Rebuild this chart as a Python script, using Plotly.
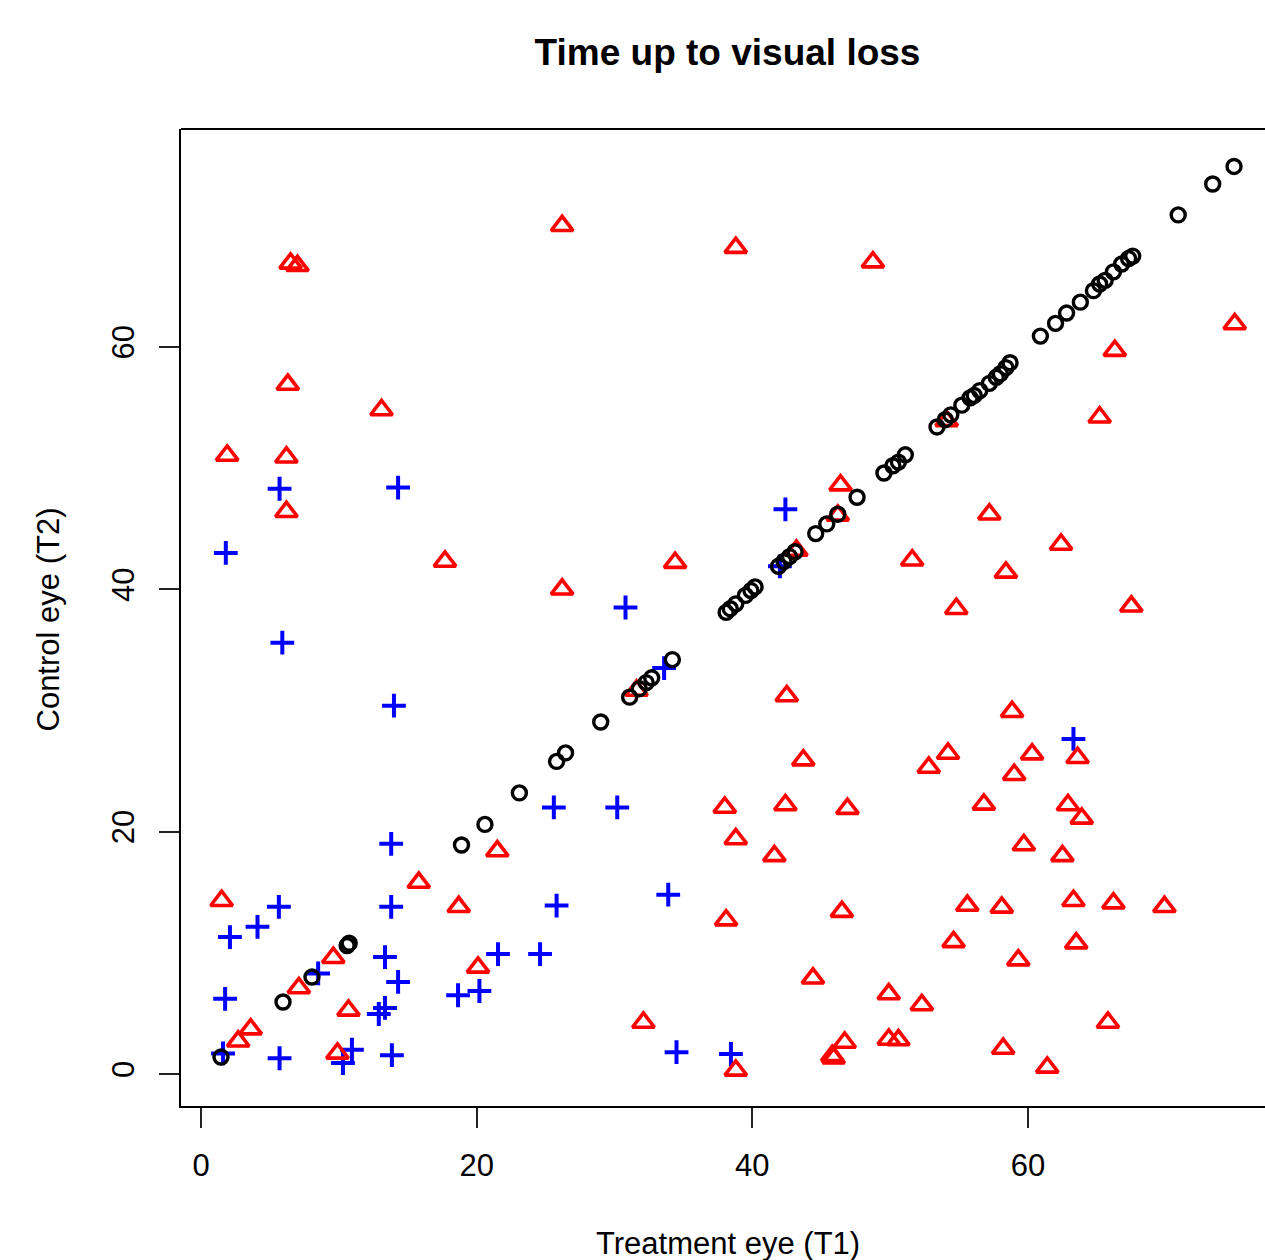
import plotly.graph_objects as go

# ---- data ----
# both eyes censored (black circles)
circ_t1 = [1.45, 5.95, 8.05, 10.6, 10.75, 18.9, 20.6, 23.1, 25.8, 26.45, 29.0,
           31.1, 31.8, 32.3, 32.7, 34.2, 38.1, 38.4, 38.8, 39.5, 39.9, 40.2,
           41.9, 42.3, 42.7, 43.1, 44.6, 45.4, 46.2, 47.6, 49.55, 50.2, 50.6, 51.1,
           53.4, 54.0, 54.4, 55.2, 55.8, 56.1, 56.5, 57.2, 57.7, 58.0, 58.4, 58.7,
           60.9, 62.0, 62.8, 63.8, 64.75, 65.2, 65.6, 66.2, 66.8, 67.3, 67.6,
           70.9, 73.4, 74.95]
circ_t2 = [1.4, 5.94, 8.0, 10.6, 10.8, 18.9, 20.6, 23.2, 25.8, 26.5, 29.05,
           31.1, 31.8, 32.3, 32.7, 34.2, 38.1, 38.4, 38.8, 39.5, 39.9, 40.2,
           41.9, 42.3, 42.7, 43.1, 44.6, 45.4, 46.2, 47.6, 49.6, 50.2, 50.5, 51.1,
           53.4, 54.0, 54.4, 55.2, 55.8, 56.0, 56.4, 57.0, 57.5, 57.8, 58.3, 58.7,
           60.9, 61.95, 62.8, 63.7, 64.65, 65.2, 65.5, 66.2, 66.85, 67.3, 67.5,
           70.9, 73.45, 74.9]

# one eye with visual loss (red triangles)
tri_t1 = [26.2, 38.8, 48.75, 6.5, 7.0, 6.3, 13.1, 1.9, 6.2, 6.2, 17.7, 26.2, 34.4,
          75.0, 66.3, 65.2, 51.6, 57.2, 62.4, 58.4, 54.8, 67.5, 58.85, 54.2, 52.8,
          60.3, 59.0, 63.6, 56.8, 62.9, 63.9, 59.7, 42.5, 43.7, 38.0, 42.4, 46.9,
          38.8, 41.6, 38.1, 46.5, 44.4, 49.9, 32.1, 46.7, 45.8, 45.9, 49.9, 50.6,
          38.8, 52.3, 62.5, 55.6, 58.1, 63.3, 66.2, 69.9, 54.6, 63.5, 59.3, 65.8,
          58.2, 61.4, 1.5, 21.5, 15.8, 18.7, 9.6, 20.1, 7.1, 10.7, 3.6, 2.7, 9.9,
          31.6, 43.2, 46.2, 46.4, 54.1]
tri_t2 = [70.0, 68.2, 67.0, 66.9, 66.7, 56.9, 54.8, 51.05, 50.9, 46.4, 42.3, 40.0, 42.2,
          61.9, 59.7, 54.2, 42.4, 46.2, 43.7, 41.4, 38.4, 38.6, 29.9, 26.45, 25.3,
          26.4, 24.7, 26.1, 22.25, 22.2, 21.1, 18.9, 31.2, 25.9, 22.0, 22.2, 21.9,
          19.4, 18.0, 12.7, 13.4, 7.9, 6.6, 4.25, 2.6, 1.5, 1.3, 2.85, 2.8,
          0.3, 5.7, 18.0, 13.9, 13.75, 14.3, 14.1, 13.8, 10.9, 10.8, 9.4, 4.25,
          2.1, 0.55, 14.3, 18.4, 15.8, 13.8, 9.6, 8.8, 7.1, 5.25, 3.7, 2.7, 1.7,
          31.65, 43.2, 46.1, 48.6, 53.9]

# both eyes with visual loss (blue plus)
plus_t1 = [5.7, 14.3, 1.8, 5.9, 14.0, 42.4, 30.8, 33.6, 25.6, 30.2, 63.3, 42.0,
           25.8, 33.9, 34.5, 38.45, 24.6, 13.8, 5.65, 4.1, 2.1, 13.8, 13.35, 14.3,
           8.5, 1.75, 13.35, 12.9, 21.55, 18.65, 20.2, 5.7, 13.85, 10.95, 10.3, 1.6]
plus_t2 = [48.3, 48.4, 43.0, 35.6, 30.4, 46.6, 38.5, 33.5, 22.0, 22.0, 27.65, 41.9,
           13.9, 14.8, 1.8, 1.65, 9.9, 19.0, 13.8, 12.15, 11.3, 13.8, 9.65, 7.6,
           8.3, 6.2, 5.45, 4.95, 9.9, 6.5, 6.85, 1.3, 1.55, 2.0, 0.9, 1.7]

x_ticks = [0, 20, 40, 60]
y_ticks = [0, 20, 40, 60]

FONT = "Liberation Sans, Arial, Helvetica, sans-serif"

fig = go.Figure()
fig.add_trace(go.Scatter(x=plus_t1, y=plus_t2, mode="markers",
                         marker=dict(symbol="cross-thin-open", size=17, color="#0000FF",
                                     line=dict(color="#0000FF", width=4)),
                         hoverinfo="skip"))
fig.add_trace(go.Scatter(x=tri_t1, y=tri_t2, mode="markers",
                         marker=dict(symbol="triangle-up-open", size=19, color="#FF0000",
                                     line=dict(color="#FF0000", width=3.6)),
                         hoverinfo="skip"))
fig.add_trace(go.Scatter(x=circ_t1, y=circ_t2, mode="markers",
                         marker=dict(symbol="circle-open", size=14, color="#000000",
                                     line=dict(color="#000000", width=3.4)),
                         hoverinfo="skip"))

L, T, B = 181, 129, 154
W, H = 1265, 1260

fig.update_layout(
    width=W, height=H,
    margin=dict(l=L, r=0, t=T, b=B, pad=0),
    paper_bgcolor="white", plot_bgcolor="white",
    showlegend=False,
    font=dict(family=FONT, size=31, color="black"),
    title=dict(text="<b>Time up to visual loss</b>", xref="container", yref="container",
               x=727.5 / W, y=1 - 52 / H, xanchor="center", yanchor="middle",
               font=dict(family=FONT, size=37, color="black")),
    xaxis=dict(range=[-1.451, 77.197], tickvals=x_ticks, ticktext=[str(v) for v in x_ticks],
               showgrid=False, zeroline=False, showline=True, linecolor="black", linewidth=1.8,
               ticks="outside", ticklen=20, tickwidth=1.8, tickcolor="#222",
               ticklabelstandoff=11, tickfont=dict(size=31)),
    yaxis=dict(range=[-2.641, 77.99], tickvals=y_ticks, ticktext=[str(v) for v in y_ticks],
               showgrid=False, zeroline=False, showline=True, linecolor="black", linewidth=1.8,
               ticks="outside", ticklen=20, tickwidth=1.8, tickcolor="#222",
               tickangle=-90, ticklabelstandoff=13, tickfont=dict(size=31)),
    shapes=[dict(type="line", xref="paper", yref="paper", x0=0, x1=1.01, y0=1, y1=1,
                 line=dict(color="black", width=1.8))],
    annotations=[
        dict(text="Treatment eye (T1)", xref="paper", yref="paper",
             x=(727.5 - L) / (W - L), y=(1106 - 1243) / (1106 - 129),
             xanchor="center", yanchor="middle", showarrow=False,
             font=dict(family=FONT, size=31, color="black")),
        dict(text="Control eye (T2)", xref="paper", yref="paper",
             x=(48 - L) / (W - L), y=(1106 - 619.5) / (1106 - 129),
             xanchor="center", yanchor="middle", showarrow=False, textangle=-90,
             font=dict(family=FONT, size=31, color="black")),
    ],
)

fig.write_html("out.html", config={"displayModeBar": False},
               post_script="document.body.style.margin='0';document.body.style.overflow='hidden';")
